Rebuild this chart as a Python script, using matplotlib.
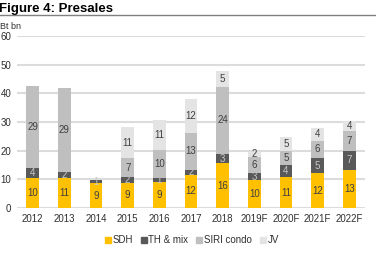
import matplotlib.pyplot as plt
import numpy as np
from matplotlib.lines import Line2D

plt.rcParams['font.family'] = ['Liberation Sans', 'DejaVu Sans']

years = ['2012', '2013', '2014', '2015', '2016', '2017', '2018',
         '2019F', '2020F', '2021F', '2022F']
sdh = [10.4, 10.6, 8.7, 8.9, 9.1, 11.6, 15.6, 9.7, 10.8, 12.2, 13.4]
th_mix = [3.6, 1.9, 1.0, 1.9, 1.4, 1.7, 3.2, 2.6, 4.2, 5.2, 6.6]
siri_condo = [28.6, 29.3, 0, 6.6, 9.6, 12.9, 23.6, 5.6, 4.8, 6.1, 6.8]
jv = [0, 0, 0, 10.8, 10.6, 11.9, 5.3, 1.6, 4.9, 4.4, 3.7]

series = [('SDH', sdh, '#FFC000', '#404040'),
          ('TH & mix', th_mix, '#595959', '#C8C8C8'),
          ('SIRI condo', siri_condo, '#BFBFBF', '#404040'),
          ('JV', jv, '#E4E4E4', '#404040')]

fig = plt.figure(figsize=(3.76, 2.54), dpi=100)
ax = fig.add_axes([0.045, 0.181, 0.926, 0.677])

x = np.arange(len(years))
bottom = np.zeros(len(years))
handles = []
for name, vals, color, tcolor in series:
    vals = np.array(vals)
    bars = ax.bar(x, vals, 0.4, bottom=bottom, color=color, zorder=3)
    labels = ['%d' % round(v) if v > 0 else '' for v in vals]
    ax.bar_label(bars, labels=labels, label_type='center', fontsize=7,
                 color=tcolor)
    bottom += vals
    handles.append(Line2D([], [], marker='s', ls='', color=color,
                          markersize=4.5, label=name))

ax.set_xlim(-0.5, len(years) - 0.5)
ax.set_ylim(0, 60)
ax.set_yticks(range(0, 61, 10))
ax.set_xticks(x)
ax.set_xticklabels(years)
ax.yaxis.grid(True, color='#DCDCDC', linewidth=1.5, zorder=0)
ax.tick_params(length=0, labelsize=7, colors='#303030')
ax.tick_params(axis='y', pad=4)
ax.tick_params(axis='x', pad=4)
for s in ax.spines.values():
    s.set_visible(False)

fig.text(-0.002, 0.99, 'Figure 4: Presales', fontsize=9.5, fontweight='bold',
         va='top', ha='left')
fig.add_artist(Line2D([0, 1], [0.94, 0.94], color='#808080', linewidth=1,
                      transform=fig.transFigure))
fig.text(0.0, 0.895, 'Bt bn', fontsize=6.5, va='center', ha='left',
         color='#303030')

fig.legend(handles=handles, loc='center', bbox_to_anchor=(0.51, 0.055),
           ncol=4, frameon=False, fontsize=7, handlelength=0.6,
           handletextpad=0.2, columnspacing=0.8, labelcolor='#303030')

fig.savefig('out.png', dpi=100)
